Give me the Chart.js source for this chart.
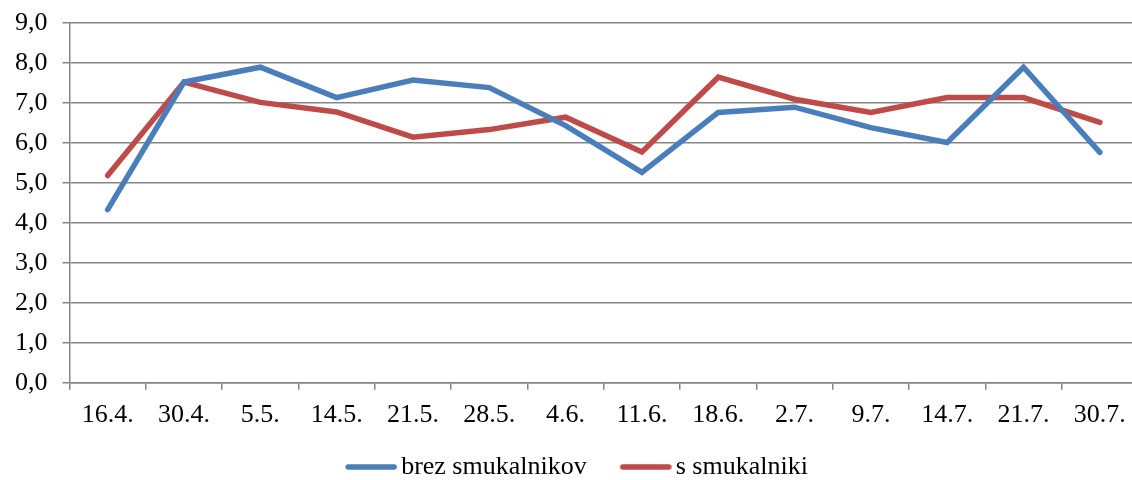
<!DOCTYPE html>
<html lang="sl">
<head>
    <meta charset="UTF-8">
    <title>Smukalniki</title>
    <style>
        html, body { margin: 0; padding: 0; overflow: hidden; background: #fff; }
        #wrap { width: 1138px; height: 490px; }
    </style>
</head>
<body>

<div id="wrap"><canvas id="myCanvas"></canvas></div>

<script src="https://cdn.jsdelivr.net/npm/chart.js@4/dist/chart.umd.min.js"></script>
<script>

var dates = ['16.4.', '30.4.', '5.5.', '14.5.', '21.5.', '28.5.', '4.6.', '11.6.', '18.6.', '2.7.', '9.7.', '14.7.', '21.7.', '30.7.'];
var brezSmukalnikov = [4.33, 7.52, 7.89, 7.13, 7.57, 7.38, 6.43, 5.26, 6.76, 6.89, 6.38, 6.01, 7.89, 5.76];
var sSmukalniki = [5.18, 7.52, 7.01, 6.77, 6.14, 6.33, 6.64, 5.77, 7.64, 7.09, 6.76, 7.13, 7.13, 6.51];
var yTicks = [0, 1, 2, 3, 4, 5, 6, 7, 8, 9];

var family = '"Liberation Serif", "Times New Roman", serif';
var font = { family: family, size: 26 };
var yFont = { family: family, size: 26, lineHeight: 0.6 };

// legend symbol: short line with some empty room on the left
function legendLine(color) {
    var c = document.createElement('canvas');
    c.width = 78;
    c.height = 8;
    var g = c.getContext('2d');
    g.strokeStyle = color;
    g.lineWidth = 5.5;
    g.lineCap = 'round';
    g.beginPath();
    g.moveTo(28, 4);
    g.lineTo(74, 4);
    g.stroke();
    return c;
}

function draw() {
    var context = document.getElementById('myCanvas').getContext('2d');

    new Chart(context, {
        type: 'line',
        data: {
            labels: dates,
            datasets: [
                {
                    label: 'brez smukalnikov',
                    data: brezSmukalnikov,
                    borderColor: '#4a7ebb',
                    backgroundColor: '#4a7ebb',
                    borderWidth: 5.5,
                    borderCapStyle: 'round',
                    borderJoinStyle: 'miter',
                    pointRadius: 0,
                    pointStyle: legendLine('#4a7ebb'),
                    tension: 0
                },
                {
                    label: 's smukalniki',
                    data: sSmukalniki,
                    borderColor: '#be4b48',
                    backgroundColor: '#be4b48',
                    borderWidth: 5.5,
                    borderCapStyle: 'round',
                    borderJoinStyle: 'miter',
                    pointRadius: 0,
                    pointStyle: legendLine('#be4b48'),
                    tension: 0
                }
            ]
        },
        options: {
            responsive: true,
            maintainAspectRatio: false,
            animation: false,
            layout: { padding: 0 },
            plugins: {
                tooltip: { enabled: false },
                legend: {
                    position: 'bottom',
                    labels: {
                        font: font,
                        color: '#000',
                        usePointStyle: true,
                        pointStyleWidth: 58,
                        boxHeight: 8,
                        padding: 18
                    }
                }
            },
            scales: {
                x: {
                    offset: true,
                    afterFit: function(axis) {
                        axis.height -= 5;
                    },
                    grid: {
                        offset: true,
                        drawOnChartArea: false,
                        color: '#868686',
                        lineWidth: 1.5,
                        tickLength: 7
                    },
                    border: { color: '#868686', width: 1.5 },
                    ticks: { font: font, color: '#000', padding: 10, maxRotation: 0, autoSkip: false }
                },
                y: {
                    min: 0,
                    max: 9,
                    afterBuildTicks: function(axis) {
                        axis.ticks = yTicks.map(v => ({ value: v }));
                    },
                    grid: {
                        color: '#868686',
                        lineWidth: 1.5,
                        tickLength: 7
                    },
                    border: { color: '#868686', width: 1.5 },
                    ticks: {
                        font: yFont,
                        color: '#000',
                        padding: 15,
                        callback: v => v.toFixed(1).replace('.', ',')
                    }
                }
            }
        }
    });
}

draw();
</script>
</body>
</html>
